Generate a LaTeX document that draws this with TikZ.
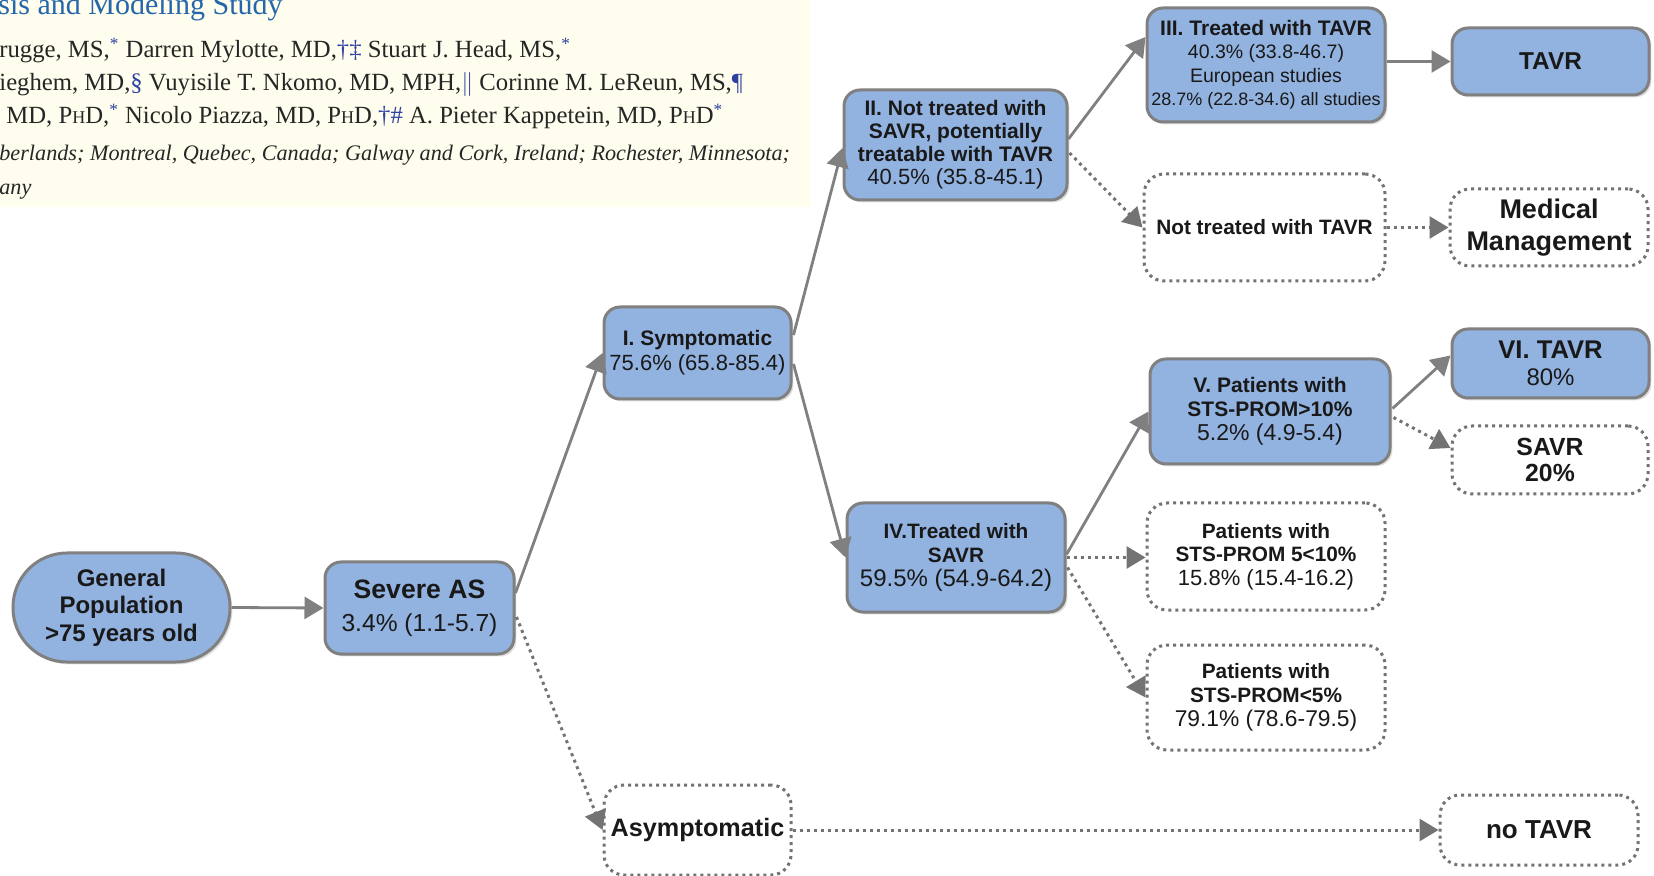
\documentclass[tikz,border=0pt]{standalone}
\usepackage{fontspec}
\setmainfont{Liberation Sans}
\newfontfamily\hdrfont{Liberation Serif}
\usetikzlibrary{arrows.meta,calc,shadows}
\definecolor{boxblue}{RGB}{146,178,224}
\definecolor{edgegray}{RGB}{128,128,128}
\definecolor{hdrbg}{RGB}{255,253,237}
\definecolor{titleblue}{RGB}{38,102,170}
\definecolor{markblue}{RGB}{45,65,160}
\newcommand{\fsz}[2]{\fontsize{#1}{#2}\selectfont}
\newcommand{\bl}[2]{{\fontsize{#1}{0}\selectfont\bfseries #2}}
\newcommand{\rl}[2]{{\fontsize{#1}{0}\selectfont #2}}
\newcommand{\phd}{P{\fsz{9}{9}H}D}
\newcommand{\mk}[1]{\textcolor{markblue}{#1}}

\begin{document}
\begin{tikzpicture}[x=0.5pt, y=-0.5pt,
    bluebox/.style={draw=edgegray, line width=1.5pt, fill=boxblue, rounded corners=8pt,
      inner sep=0pt, align=center, text=black!90,
      drop shadow={shadow xshift=1.2pt, shadow yshift=-1.2pt, opacity=0.25}},
    dotbox/.style={draw=edgegray!90!black, line width=1.5pt, dash pattern=on 1.5pt off 2pt,
      fill=white, rounded corners=10pt, inner sep=0pt, align=center, text=black!90},
    link/.style={draw=edgegray, line width=1.4pt, -{Triangle[length=9.5pt, width=11pt]}},
    dotlink/.style={link, draw=edgegray!90!black, line width=1.5pt, dash pattern=on 1.5pt off 2pt},
    hdrline/.style={anchor=base west, inner sep=0pt, text=black!85,
      font=\hdrfont\fsz{12.35}{12.35}}]
          \useasboundingbox (0,0) rectangle (1654,876);

          \fill[hdrbg] (0,0) rectangle (810,207);
          \node[hdrline, text=titleblue, font=\hdrfont\fsz{15}{15}] (title) at (-2,15) {sis and Modeling Study};
          \node[hdrline] (auth1) at (-1,58) {rugge, MS,\textsuperscript{\mk{*}} Darren Mylotte, MD,\mk{†‡} Stuart J. Head, MS,\textsuperscript{\mk{*}}};
          \node[hdrline] (auth2) at (-1,91) {ieghem, MD,\mk{§} Vuyisile T. Nkomo, MD, MPH,\mk{$\Vert$} Corinne M. LeReun, MS,\mk{¶}};
          \node[hdrline] (auth3) at (6,124) {MD, \phd,\textsuperscript{\mk{*}} Nicolo Piazza, MD, \phd,\mk{†\#} A. Pieter Kappetein, MD, \phd\textsuperscript{\mk{*}}};
          \node[hdrline, font=\hdrfont\itshape\fsz{11.1}{11.1}] (affil1) at (-1,161) {berlands; Montreal, Quebec, Canada; Galway and Cork, Ireland; Rochester, Minnesota;};
          \node[hdrline, font=\hdrfont\itshape\fsz{11.1}{11.1}] (affil2) at (-1,195) {any};

          \node[bluebox, minimum width=108.5pt, minimum height=54.5pt, rounded corners=27pt, font=\bfseries\fsz{12}{13.7}] (gp) at (121.5,607.5) {General\\Population\\>75 years old};
          \node[bluebox, minimum width=94.5pt, minimum height=46pt, font=\fsz{12.3}{16.5}] (sev) at (419.5,608) {\bl{13.3}{Severe AS}\\3.4\% (1.1-5.7)};
          \node[bluebox, minimum width=93.5pt, minimum height=46pt, font=\fsz{11}{12.5}] (sym) at (697.5,353) {\bl{10.5}{I. Symptomatic}\\75.6\% (65.8-85.4)};
          \node[dotbox, minimum width=93.5pt, minimum height=45pt] (asym) at (697.5,830) {\bl{12.6}{Asymptomatic}};
          \node[bluebox, minimum width=111.5pt, minimum height=55pt, font=\fsz{11}{11.5}] (ntsavr) at (955.5,145) {\bl{10.5}{II. Not treated with}\\\bl{10.5}{SAVR, potentially}\\\bl{10.5}{treatable with TAVR}\\40.5\% (35.8-45.1)};
          \node[bluebox, minimum width=109pt, minimum height=54.5pt, font=\fsz{12}{12}] (svtreat) at (956,557.5) {\bl{10.4}{IV.Treated with}\\\bl{10.4}{SAVR}\\59.5\% (54.9-64.2)};
          \node[bluebox, minimum width=119pt, minimum height=57pt, font=\fsz{9.75}{11.75}] (tavrt) at (1266,65) {\bl{10.5}{III. Treated with TAVR}\\40.3\% (33.8-46.7)\\European studies\\\rl{9}{28.7\% (22.8-34.6) all studies}};
          \node[dotbox, minimum width=120.5pt, minimum height=53.5pt] (nottavr) at (1264.5,227.5) {\bl{10.4}{Not treated with TAVR}};
          \node[bluebox, minimum width=120pt, minimum height=52.5pt, font=\fsz{11.5}{12}] (sts10) at (1270,411.5) {\bl{10.5}{V. Patients with}\\\bl{10.5}{STS-PROM>10\%}\\5.2\% (4.9-5.4)};
          \node[dotbox, minimum width=119pt, minimum height=53.5pt, font=\fsz{11}{11.85}] (sts5) at (1266,556.5) {\bl{10.4}{Patients with}\\\bl{10.4}{STS-PROM 5<10\%}\\15.8\% (15.4-16.2)};
          \node[dotbox, minimum width=119pt, minimum height=52.5pt, font=\fsz{11.4}{11.85}] (stslt5) at (1266,697.5) {\bl{10.4}{Patients with}\\\bl{10.4}{STS-PROM<5\%}\\79.1\% (78.6-79.5)};
          \node[bluebox, minimum width=98.5pt, minimum height=33.5pt] (tavr) at (1550.5,61.5) {\bl{12.2}{TAVR}};
          \node[dotbox, minimum width=99pt, minimum height=38.5pt, font=\bfseries\fsz{13.5}{15.8}] (medman) at (1549,227.5) {Medical\\Management};
          \node[bluebox, minimum width=98.5pt, minimum height=34.5pt, font=\fsz{12}{13.2}] (vitavr) at (1550.5,363.5) {\bl{12.8}{VI. TAVR}\\80\%};
          \node[dotbox, minimum width=98pt, minimum height=34pt, font=\bfseries\fsz{12.4}{13.2}] (savr) at (1550,460) {SAVR\\20\%};
          \node[dotbox, minimum width=99pt, minimum height=35pt] (notavr) at (1539,830) {\bl{13}{no TAVR}};

          \draw [link] (gp.east) -- (sev.west);
          \draw [link] ($(sev.east)+(0,-15)$) -- (sym.west);
          \draw [dotlink] ($(sev.east)+(1,9)$) -- (asym.west);
          \draw [link] ($(sym.east)+(1,-18)$) -- ($(ntsavr.west)+(0,3)$);
          \draw [link] ($(sym.east)+(1,11)$) -- (svtreat.west);
          \draw [link] ($(ntsavr.east)+(0,-6)$) -- ($(tavrt.west)+(0,-28)$);
          \draw [dotlink] ($(ntsavr.east)+(1,8)$) -- (nottavr.west);
          \draw [dotlink] (nottavr.east) -- (medman.west);
          \draw [link] (tavrt.east |- tavr.west) -- (tavr.west);
          \draw [link] ($(svtreat.east)+(0,-3)$) -- (sts10.west);
          \draw [dotlink] (svtreat.east) -- (svtreat.east -| sts5.west);
          \draw [dotlink] ($(svtreat.east)+(1,10)$) -- (stslt5.west);
          \draw [link] ($(sts10.east)+(1,-3)$) -- ($(vitavr.west)+(0,-8)$);
          \draw [dotlink] ($(sts10.east)+(2,6)$) -- ($(savr.west)+(0,-12)$);
          \draw [dotlink] (asym.east) -- (notavr.west);
        \end{tikzpicture}
\end{document}
